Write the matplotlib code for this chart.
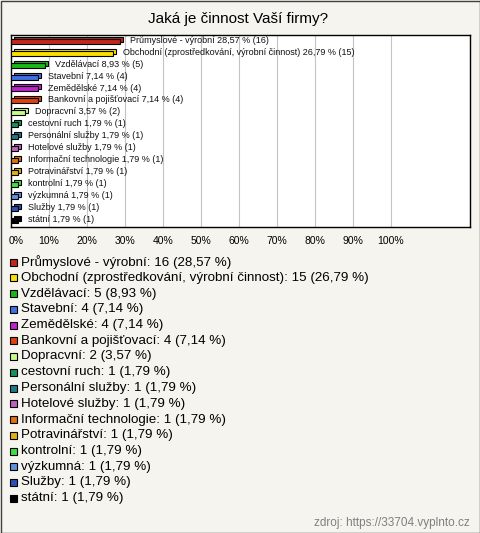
import matplotlib.pyplot as plt
from matplotlib.patches import Rectangle
from matplotlib.transforms import ScaledTranslation

categories = [
    "Průmyslové - výrobní",
    "Obchodní (zprostředkování, výrobní činnost)",
    "Vzdělávací",
    "Stavební",
    "Zemědělské",
    "Bankovní a pojišťovací",
    "Dopracvní",
    "cestovní ruch",
    "Personální služby",
    "Hotelové služby",
    "Informační technologie",
    "Potravinářství",
    "kontrolní",
    "výzkumná",
    "Služby",
    "státní",
]
counts = [16, 15, 5, 4, 4, 4, 2, 1, 1, 1, 1, 1, 1, 1, 1, 1]
percents = [28.57, 26.79, 8.93, 7.14, 7.14, 7.14, 3.57, 1.79, 1.79, 1.79, 1.79, 1.79, 1.79, 1.79, 1.79, 1.79]
colors = [
    "#c0281c", "#f8e000", "#18b818", "#4070e0", "#c020d0", "#e04010",
    "#c8f888", "#189060", "#207888", "#c060c0", "#e07010", "#e0b010",
    "#40e040", "#6090e0", "#3050b0", "#000000",
]
tick_values = [0, 10, 20, 30, 40, 50, 60, 70, 80, 90, 100]
tick_labels = [f"{t}%" for t in tick_values]

title = "Jaká je činnost Vaší firmy?"
source = "zdroj: https://33704.vyplnto.cz"

def fmt(p):
    return f"{p:.2f}".replace(".", ",")

W, H = 480, 533
bg = "#f5f4ee"
plt.rcParams["font.family"] = ["Liberation Sans", "DejaVu Sans"]

fig = plt.figure(figsize=(W / 100, H / 100), dpi=100, facecolor=bg)

# plot box in pixels: x 11..470, y 35..227
ax = fig.add_axes([11 / W, 1 - 227 / H, (470 - 11) / W, (227 - 35) / H])
ax.set_facecolor("white")
ax.set_xlim(0, 120.8)
ax.set_ylim(15.58, -0.53)

ys = list(range(len(categories)))
h = 0.42
dx, dy = 0.8, 0.17
for y, v, c in zip(ys, percents, colors):
    # back face gives the 3D look
    ax.barh(y - dy, v, height=h, left=dx, color=c, edgecolor="black", linewidth=0.8, zorder=2)
    ax.barh(y, v, height=h, color=c, edgecolor="black", linewidth=0.8, zorder=3)

for y, v, name, n in zip(ys, percents, categories, counts):
    ax.text(v + 2.7, y - 0.08, f"{name} {fmt(v)} % ({n})", fontsize=6.5,
            va="center", ha="left", color="#111111", zorder=4)

ax.set_xticks(tick_values)
ax.set_xticklabels(tick_labels, fontsize=7.5)
ax.set_yticks([])
ax.tick_params(axis="x", length=0, pad=6.5)
first = ax.get_xticklabels()[0]
first.set_transform(first.get_transform() + ScaledTranslation(5 / 100, 0, fig.dpi_scale_trans))
ax.grid(axis="x", color="#c4c4c4", linewidth=0.8, zorder=0)
for s in ax.spines.values():
    s.set_color("black")
    s.set_linewidth(1)

fig.text(238 / W, 1 - 19 / H, title, fontsize=11, ha="center", va="center")

# legend
for i, (name, n, p, c) in enumerate(zip(categories, counts, percents, colors)):
    yc = 262 + 15.75 * i
    fig.add_artist(Rectangle((10 / W, 1 - (yc + 3.5) / H), 7 / W, 7 / H,
                             transform=fig.transFigure, facecolor=c,
                             edgecolor="black", linewidth=0.8))
    fig.text(21 / W, 1 - yc / H, f"{name}: {n} ({fmt(p)} %)", fontsize=9.6,
             ha="left", va="center")

fig.text(470 / W, 1 - 523 / H, source, fontsize=8.5, ha="right", va="center", color="#808080")

fig.add_artist(Rectangle((0.5 / W, 0.5 / H), 1 - 1 / W, 1 - 1 / H, transform=fig.transFigure,
                         fill=False, edgecolor="#404040", linewidth=1))

fig.savefig("out.png", dpi=100, facecolor=bg)
